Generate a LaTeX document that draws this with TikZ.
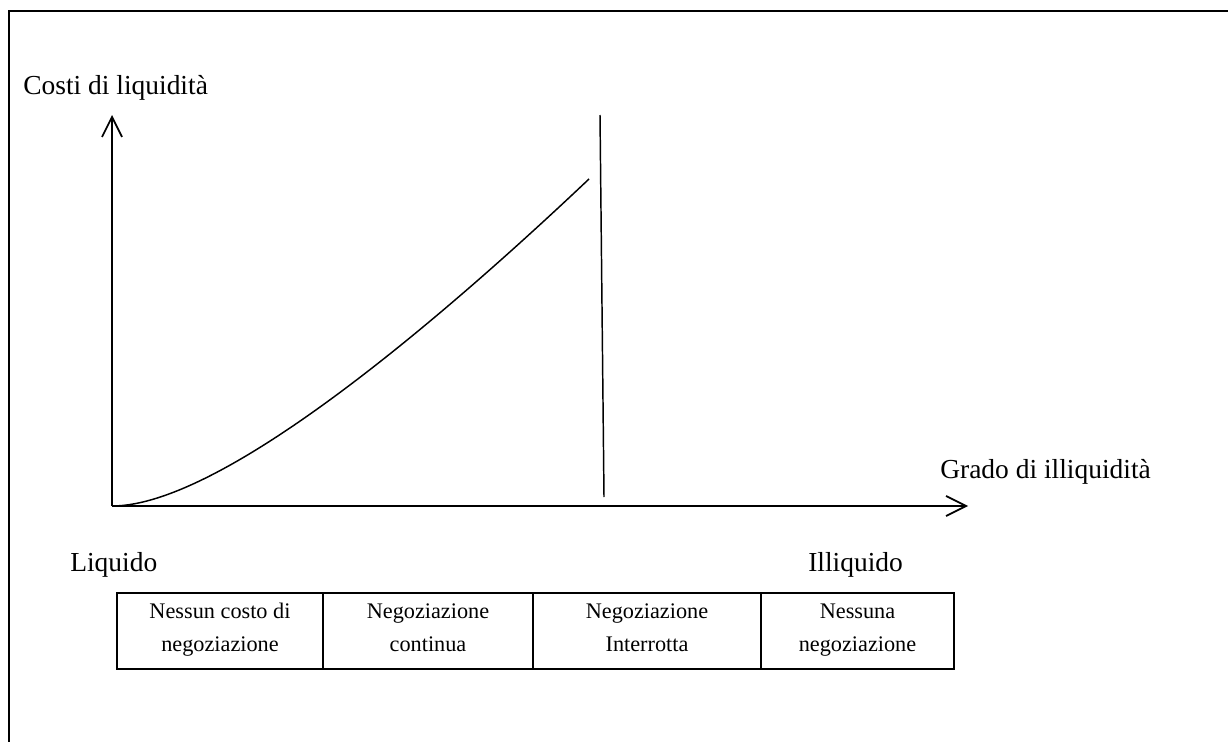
\documentclass[tikz,border=0pt]{standalone}
\usepackage{fontspec}
\setmainfont{Liberation Serif}
\usetikzlibrary{arrows.meta}

\newcommand{\topstrut}{\rule{0pt}{13pt}}
\newcommand{\botstrut}{\rule[-7.75pt]{0pt}{7.75pt}}

\tikzset{
  axis/.style={line width=1.5pt,-{Straight Barb[length=15pt,width=15pt,line width=1.3pt]}},
  lbl/.style={inner sep=0pt,anchor=base west,font=\fontsize{20.6}{24}\selectfont},
  cell/.style={draw,line width=1.4pt,align=center,minimum width=#1,minimum height=57pt,inner sep=0pt,
               font=\fontsize{16.7}{24.75}\selectfont},
}

\begin{document}
\begin{tikzpicture}[x=0.75pt,y=-0.75pt]
\useasboundingbox (0,0) rectangle (1228,742);
\draw [line width=1.5pt] (9,742) -- (9,11) -- (1228,11) ;   % cornice

\coordinate (O) at (112,506) ;
\draw [axis] (O) -- (112,115) ;
\draw [axis] (O) -- (968,506) ;
\node [lbl] (costi) at (23,94) {Costi di liquidità} ;
\node [lbl] (grado) at (940,478) {Grado di illiquidità} ;

\draw [line width=1.1pt] (O) .. controls (222,506) and (439,321) .. (589,179) ;
\draw [line width=1.1pt] (600,115) -- (604,497) ;   % soglia

\node [lbl] (liq) at (70,571) {Liquido} ;
\node [lbl] (illiq) at (808,571) {Illiquido} ;

\node [cell=154.5pt] (c1) at (220,631) {\topstrut Nessun costo di\\negoziazione\botstrut} ;
\node [cell=157.5pt] (c2) at (428,631) {\topstrut Negoziazione\\continua\botstrut} ;
\node [cell=171pt] (c3) at (647,631) {\topstrut Negoziazione\\Interrotta\botstrut} ;
\node [cell=144.75pt] (c4) at (857.5,631) {\topstrut Nessuna\\negoziazione\botstrut} ;

\end{tikzpicture}
\end{document}
